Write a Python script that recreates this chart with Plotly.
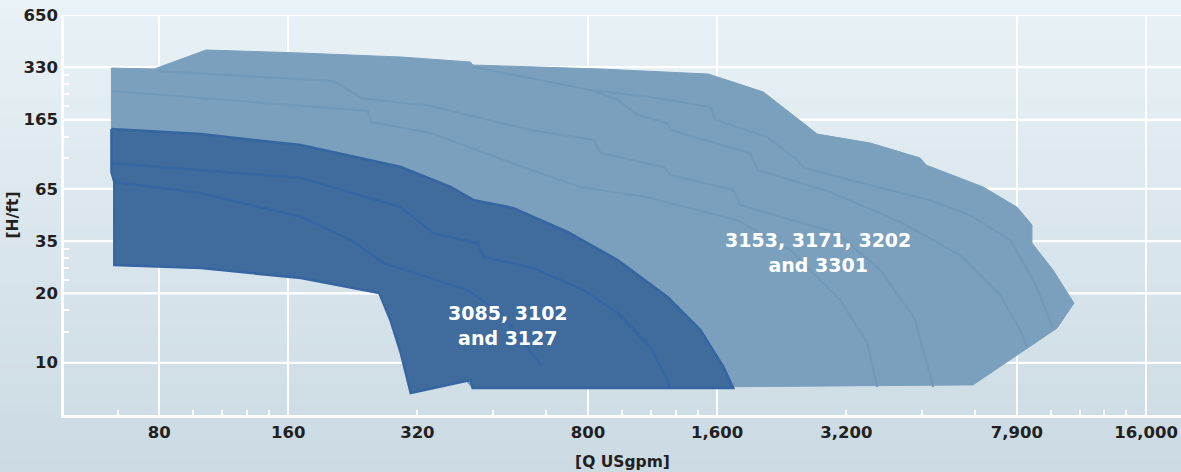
import numpy as np
import plotly.graph_objects as go

# ---------------- axis ticks (underlying scale: l/s and m, labels in USgpm / ft) -------------
x_label_vals = [5, 10, 20, 50, 100, 200, 500, 1000]
x_label_text = ["80", "160", "320", "800", "1,600", "3,200", "7,900", "16,000"]
x_small_ticks = [4, 6, 7, 8, 9, 30, 40, 60, 70, 80, 90, 300, 400, 600, 700, 800, 900]
x_grid_vals = [5, 10, 50, 100, 500, 1000]

y_label_vals = [200, 100, 50, 20, 10, 5, 2]
y_label_text = ["650", "330", "165", "65", "35", "20", "10"]
y_small_ticks = [90, 80, 70, 60, 40, 30, 9, 8, 7, 6, 4, 3]

# ---------------- envelopes ----------------
dark_q = [3.87, 6.26, 10.7, 18.3, 23.9, 27.1, 33.5, 44.8, 58.6, 76.6, 91.4, 103.4, 109.0,
          26.9, 26.6, 19.3, 18.3, 17.3, 16.3, 10.7, 6.26, 3.93, 3.93, 3.87, 3.87]
dark_h = [44.2, 41.3, 35.7, 26.7, 20.5, 17.2, 15.5, 11.3, 7.79, 4.77, 3.08, 1.89, 1.43,
          1.43, 1.59, 1.34, 2.27, 3.52, 5.03, 6.13, 7.00, 7.29, 21.9, 25.0, 44.2]

light_q = [3.87, 4.87, 6.43, 10.7, 18.3, 26.6, 26.9, 53.5, 95.4, 128.2, 171.2, 227.5, 297.5,
           307.0, 417.0, 500.0, 542.0, 542.0, 607.0, 679.0, 620.0, 395.0, 91.4, 26.9, 24.6,
           17.8, 10.7, 6.26, 3.99, 3.91, 3.87, 3.87]
light_h = [99.1, 97.8, 125.8, 120.9, 114.6, 107.3, 103.1, 97.8, 91.5, 72.1, 41.3, 36.7, 30.1,
           27.4, 20.5, 15.7, 12.4, 9.75, 6.82, 4.40, 3.16, 1.49, 1.45, 1.43, 1.81,
           5.23, 8.89, 10.15, 10.15, 25.0, 25.0, 99.1]

# inner curves of the dark (3085/3102/3127) family
dark_lines = [
    ([3.87, 10.7, 18.3, 21.8, 27.6, 28.6, 37.3, 48.8, 58.6, 69.9, 76.6, 77.8],
     [28.1, 23.1, 15.7, 11.1, 9.75, 8.10, 7.00, 5.23, 3.86, 2.46, 1.59, 1.43]),
    ([3.93, 6.26, 10.7, 14.0, 16.7, 26.2, 31.3, 38.8],
     [21.9, 18.9, 13.8, 10.15, 7.48, 5.23, 3.86, 1.94]),
]

# inner curves of the light (3153/3171/3202/3301) family
light_lines = [
    ([4.97, 12.78, 14.77, 21.49, 36.75, 51.5, 53.5, 74.98, 77.8, 109.1, 113.4, 190.6, 240.1,
      289.6, 318.9],
     [95.2, 83.4, 66.6, 59.9, 43.6, 38.2, 32.1, 26.7, 24.0, 19.7, 16.1, 11.1, 6.82, 3.52, 1.45]),
    ([3.87, 15.33, 15.58, 21.49, 36.75, 48.04, 68.8, 111.5, 148.1, 193.7, 223.9, 236.2],
     [73.1, 56.1, 48.4, 41.9, 25.7, 20.5, 17.9, 13.2, 8.89, 4.58, 2.59, 1.45]),
    ([26.9, 50.7, 69.9, 96.5, 99.1, 130.9, 153.8, 158.9, 227.5, 313.8, 388.9, 482.0, 551.0,
      607.0],
     [100.4, 74.1, 67.5, 59.1, 49.8, 39.7, 29.3, 26.4, 21.0, 17.2, 14.1, 10.15, 5.74, 3.16]),
    ([50.7, 58.6, 65.2, 76.6, 77.8, 119.6, 124.1, 183.6, 267.3, 368.7, 456.8, 508.5, 528.0],
     [74.1, 64.9, 53.2, 47.8, 43.6, 32.1, 25.7, 19.2, 12.9, 8.32, 4.90, 3.08, 2.46]),
]

labels = [
    ("3085, 3102<br>and 3127", 32.5, 3.29),
    ("3153, 3171, 3202<br>and 3301", 172.0, 8.66),
]

LIGHT_FILL = "#7ba0bd"
LIGHT_LINE = "#7199b9"
DARK_FILL = "#406c9d"
DARK_LINE = "#3566a1"
FONT = "DejaVu Sans"

fig = go.Figure()

fig.add_trace(go.Scatter(x=light_q, y=light_h, mode="lines", fill="toself",
                         fillcolor=LIGHT_FILL, line=dict(color=LIGHT_FILL, width=1),
                         hoverinfo="skip", showlegend=False))
for qx, hy in light_lines:
    fig.add_trace(go.Scatter(x=qx, y=hy, mode="lines", line=dict(color=LIGHT_LINE, width=2.2),
                             hoverinfo="skip", showlegend=False))
fig.add_trace(go.Scatter(x=dark_q, y=dark_h, mode="lines", fill="toself",
                         fillcolor=DARK_FILL, line=dict(color=DARK_LINE, width=2.5),
                         hoverinfo="skip", showlegend=False))
for qx, hy in dark_lines:
    fig.add_trace(go.Scatter(x=qx, y=hy, mode="lines", line=dict(color=DARK_LINE, width=2.5),
                             hoverinfo="skip", showlegend=False))

for txt, qx, hy in labels:
    fig.add_annotation(x=np.log10(qx), y=np.log10(hy), text=txt, showarrow=False,
                       font=dict(family=FONT, size=19, color="white", weight=700))

W, H = 1181, 472
ml, mr, mt, mb = 64, 0, 15, 57
pw, ph = W - ml - mr, H - mt - mb

# background: vertical gradient built from thin paper-referenced bands
top_rgb = np.array([233, 242, 246])
bot_rgb = np.array([203, 218, 227])
n_bands = 48
y_top = 1 + mt / ph
y_bot = -mb / ph
edges = np.linspace(y_top, y_bot, n_bands + 1)
for i in range(n_bands):
    c = top_rgb + (bot_rgb - top_rgb) * (i + 0.5) / n_bands
    fig.add_shape(type="rect", xref="paper", yref="paper",
                  x0=-ml / pw - 0.01, x1=1.01, y0=edges[i + 1] - 0.002, y1=edges[i],
                  fillcolor="rgb(%d,%d,%d)" % tuple(c.round().astype(int)),
                  line=dict(width=0), layer="below")

# horizontal grid lines at the labelled heads (shape coords on a log axis are data values)
for v in y_label_vals:
    fig.add_shape(type="line", xref="paper", yref="y", x0=0, x1=1, y0=v, y1=v,
                  line=dict(color="white", width=2), layer="below")

tick_font = dict(family=FONT, size=16.5, color="#231f20", weight=700)
title_font = dict(family=FONT, size=15.5, color="#231f20", weight=700)

x_all = x_label_vals + x_small_ticks
x_txt = x_label_text + [""] * len(x_small_ticks)

fig.update_layout(
    width=W, height=H, margin=dict(l=ml, r=mr, t=mt, b=mb, autoexpand=False),
    paper_bgcolor="#dde8ee", plot_bgcolor="rgba(0,0,0,0)",
    xaxis=dict(type="log", range=[np.log10(3), np.log10(1000) + 35 / 429.4],
               tickmode="array", tickvals=x_all, ticktext=x_txt,
               ticks="inside", ticklen=5, tickcolor="white", tickwidth=2,
               showgrid=False, zeroline=False, showline=True, linecolor="white", linewidth=2.5,
               tickfont=tick_font,
               minor=dict(tickmode="array", tickvals=x_grid_vals, showgrid=True,
                          gridcolor="white", gridwidth=2, ticks=""),
               title=dict(text="[Q USgpm]", font=title_font, standoff=16)),
    yaxis=dict(type="log", range=[0, np.log10(200)],
               tickmode="array", tickvals=y_label_vals, ticktext=y_label_text,
               ticks="", showgrid=True, gridcolor="white", gridwidth=2,
               zeroline=False, showline=True, linecolor="white", linewidth=2.5,
               tickfont=tick_font,
               minor=dict(tickmode="array", tickvals=y_small_ticks, showgrid=False,
                          ticks="inside", ticklen=5, tickcolor="white", tickwidth=2),
               title=dict(text="[H/ft]", font=title_font, standoff=2)),
)

fig.write_html("out.html", config={"displayModeBar": False},
               post_script="document.body.style.margin='0';document.body.style.padding='0';")
